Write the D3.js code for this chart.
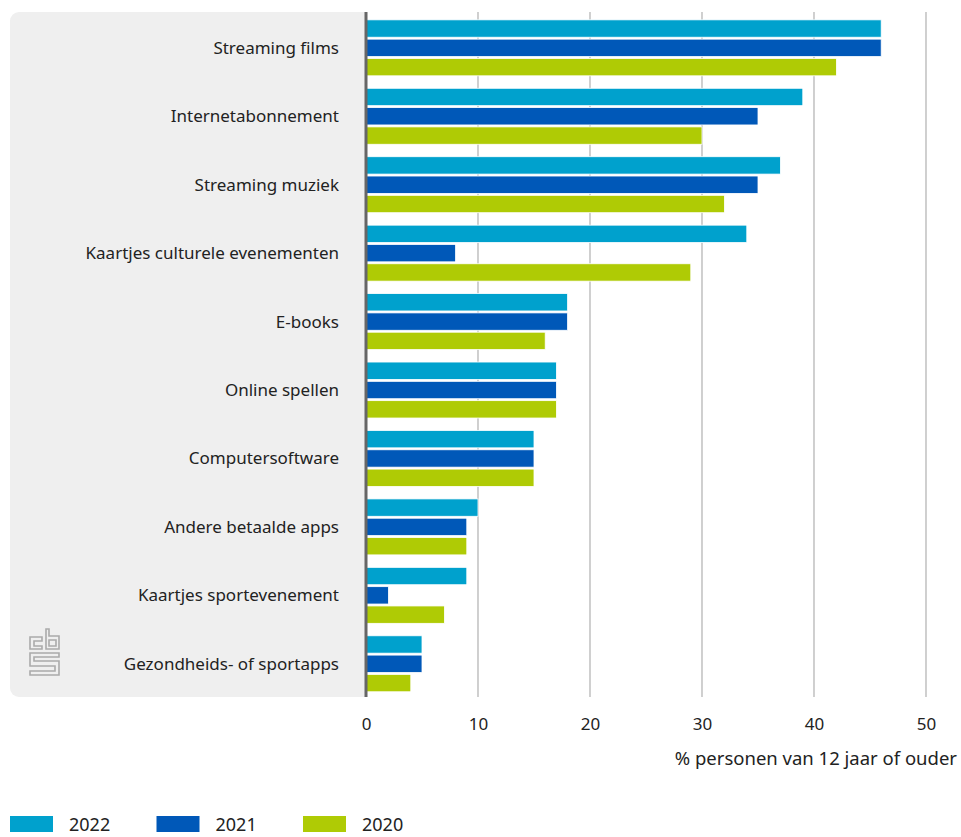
<!DOCTYPE html>
<html><head><meta charset="utf-8">
<script src="https://cdn.jsdelivr.net/npm/d3@7"></script>
<style>body{margin:0;background:#fff;}svg{display:block;font-family:"Noto Sans",sans-serif;}</style>
</head><body><svg id="c" width="961" height="837"></svg>
<script>
const categories = ["Streaming films","Internetabonnement","Streaming muziek","Kaartjes culturele evenementen","E-books","Online spellen","Computersoftware","Andere betaalde apps","Kaartjes sportevenement","Gezondheids- of sportapps"];
const series = ["2022","2021","2020"];
const values2022 = [46,39,37,34,18,17,15,10,9,5];
const values2021 = [46,35,35,8,18,17,15,9,2,5];
const values2020 = [42,30,32,29,16,17,15,9,7,4];
const colors = ["#00a1cd","#0058b8","#afcb05"];
const xTicks = [0,10,20,30,40,50];
const axisTitle = "% personen van 12 jaar of ouder";

const svg = d3.select("#c");
const x = d3.scaleLinear().domain([0,50]).range([366,926]);
const y = d3.scaleBand().domain(categories).range([12,697]).paddingInner(0.182).paddingOuter(0.0955).align(0.6);
const ys = d3.scaleBand().domain(series).range([0,y.bandwidth()]).paddingInner(0.1);
const data = [values2022,values2021,values2020];

// background panel
svg.append("rect").attr("x",10).attr("y",12).attr("width",366).attr("height",685).attr("rx",9).attr("fill","#efefef");
svg.append("rect").attr("x",366).attr("y",12).attr("width",20).attr("height",685).attr("fill","#fff");

// grid
svg.append("g").selectAll("line").data(xTicks.filter(d=>d>0)).join("line")
  .attr("x1",d=>x(d)).attr("x2",d=>x(d)).attr("y1",12).attr("y2",697)
  .attr("stroke","#b0b0b0").attr("stroke-width",1.2);

// bars
series.forEach((s,i)=>{
  svg.append("g").selectAll("rect").data(categories).join("rect")
    .attr("x",x(0)).attr("y",(c)=>y(c)+ys(s))
    .attr("width",(c,j)=>x(data[i][j])-x(0)).attr("height",ys.bandwidth())
    .attr("fill",colors[i]).attr("stroke","#fff").attr("stroke-width",0.8);
});

// zero axis
svg.append("line").attr("x1",x(0)).attr("x2",x(0)).attr("y1",12).attr("y2",697).attr("stroke","#666").attr("stroke-width",3);

// category labels
svg.append("g").selectAll("text").data(categories).join("text")
  .attr("x",339).attr("y",c=>y(c)+y.bandwidth()/2).attr("dy","0.35em")
  .attr("text-anchor","end").attr("font-size",17).attr("fill","#222").text(c=>c);

// x axis labels
const xAxis = svg.append("g").attr("transform","translate(0,697)")
  .call(d3.axisBottom(x).tickValues(xTicks).tickSize(0).tickPadding(21));
xAxis.select(".domain").remove();
xAxis.selectAll("text").attr("font-size",17).attr("fill","#222").attr("font-family","Noto Sans, sans-serif");

svg.append("text").attr("x",957).attr("y",765).attr("text-anchor","end").attr("font-size",18.5).attr("fill","#222").text(axisTitle);

// legend
const lg = svg.append("g").selectAll("g").data(series).join("g").attr("transform",(d,i)=>`translate(${10+i*146.5},816)`);
lg.append("rect").attr("width",43).attr("height",16).attr("fill",(d,i)=>colors[i]);
lg.append("text").attr("x",59).attr("y",15).attr("font-size",18).attr("fill","#222").text(d=>d);

// cbs logo (simplified)
const logo = svg.append("g").attr("transform","translate(29,628)").attr("fill","none").attr("stroke","#aaa").attr("stroke-width",1.6);
logo.append("path").attr("d","M1,9 H13 V13 H5 V18 H13 V21 H1 Z");
logo.append("path").attr("d","M17,1 H20 V8 H30 V21 H17 Z M20,12 V18 H27 V12 Z");
logo.append("path").attr("d","M1,25 H30 V29 H5 V33 H30 V47 H1 V43 H26 V38 H1 Z");
</script></body></html>
